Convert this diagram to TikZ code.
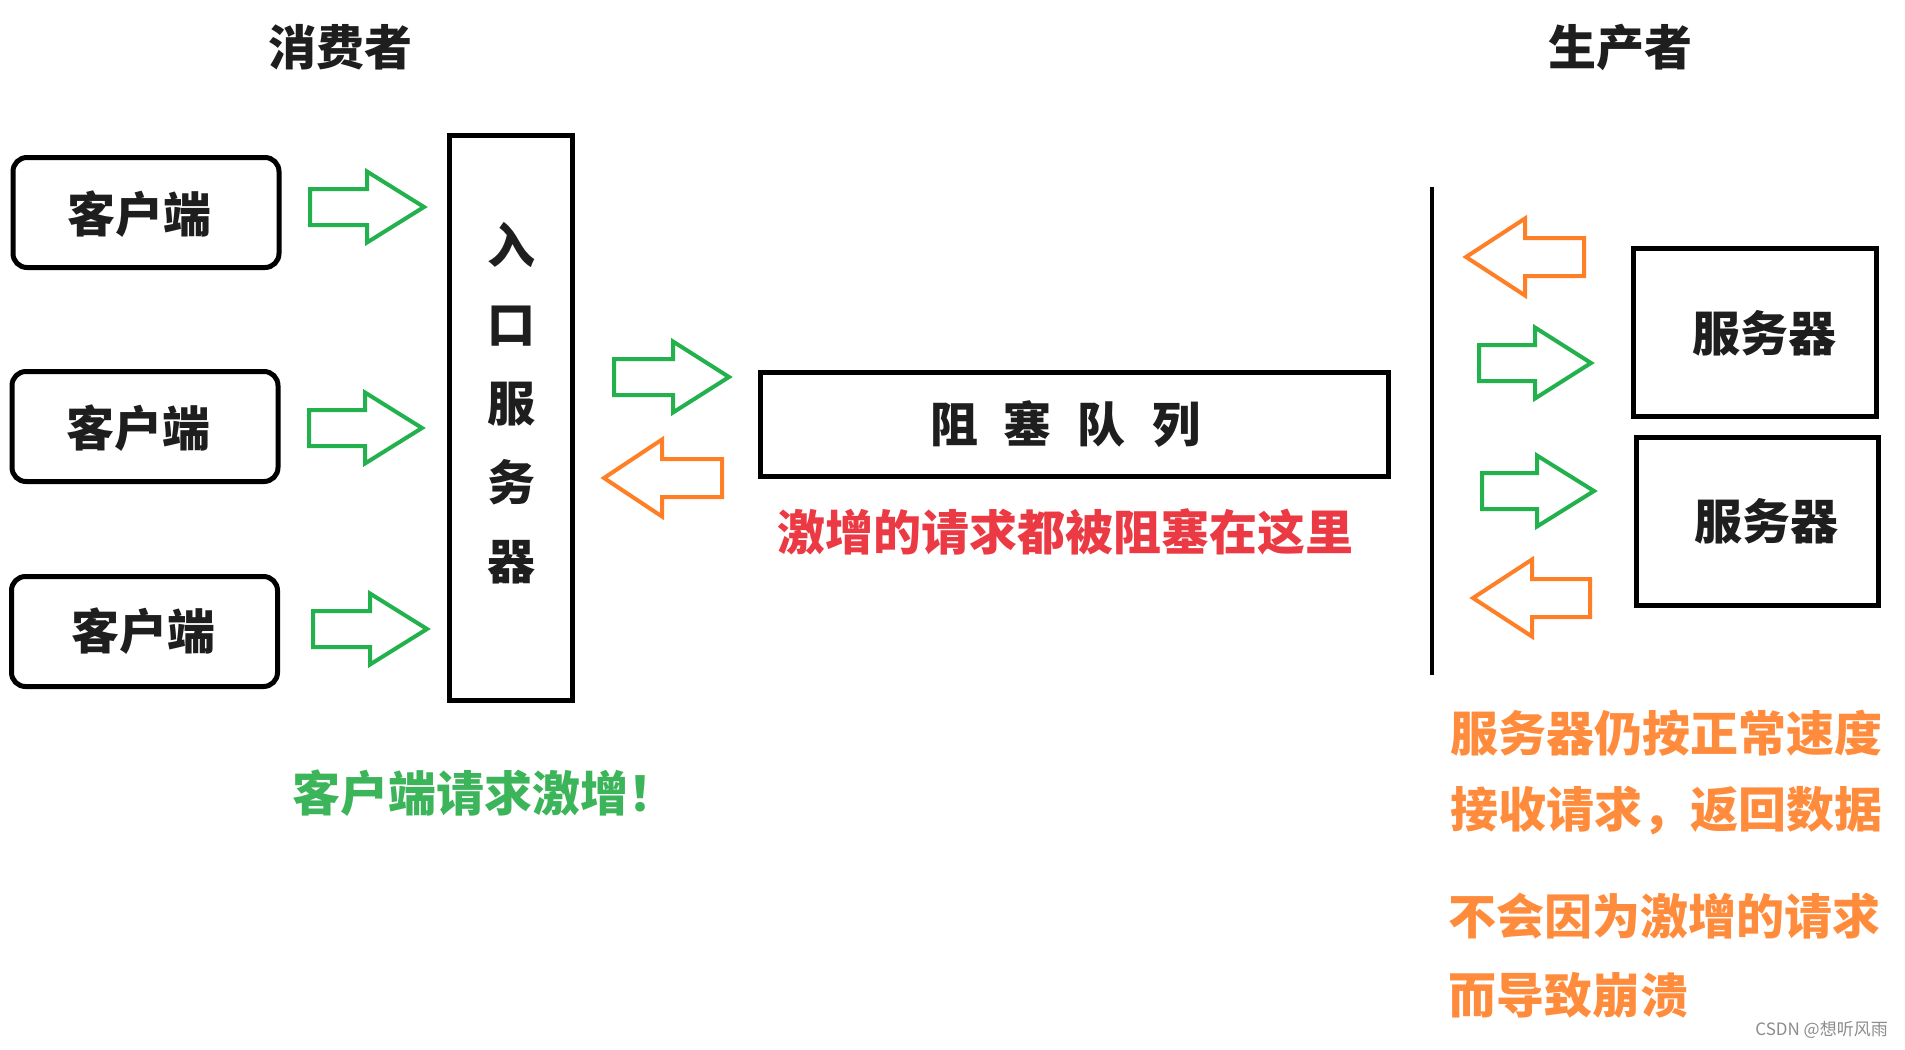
\documentclass[tikz,border=0pt]{standalone}
\usepackage{fontspec}
\setmainfont{Noto Sans CJK SC}
\definecolor{agreen}{RGB}{34,177,76}
\definecolor{aorange}{RGB}{255,127,39}
\definecolor{tgreen}{RGB}{60,180,90}
\definecolor{torange}{RGB}{255,140,60}
\definecolor{tred}{RGB}{235,58,68}
\definecolor{tblack}{RGB}{30,30,30}
\tikzset{
  txt/.style={font=\bfseries\fontsize{48}{48}\selectfont, inner sep=0pt, text=tblack},
  clientbox/.style={draw=black, line width=5pt, rounded corners=14pt, minimum width=266pt, minimum height=110pt},
  plainbox/.style={draw=black, line width=5pt},
  garr/.style={draw=agreen, line width=4pt, line join=miter},
  oarr/.style={draw=aorange, line width=4pt, line join=miter},
}
\newcommand{\greenarrow}[4]{\draw[garr] (#1,#2-18) -- (#1+#3,#2-18) -- (#1+#3,#2-35.5) -- (#1+#3+#4,#2) -- (#1+#3,#2+35.5) -- (#1+#3,#2+18) -- (#1,#2+18) -- cycle;}
\newcommand{\orangearrow}[4]{\draw[oarr] (#1,#2) -- (#1+#3,#2-38.5) -- (#1+#3,#2-19) -- (#1+#3+#4,#2-19) -- (#1+#3+#4,#2+19) -- (#1+#3,#2+19) -- (#1+#3,#2+38.5) -- cycle;}
\begin{document}
\begin{tikzpicture}[x=1pt,y=-1pt]
\useasboundingbox[fill=white] (0,0) rectangle (1905,1049);
% titles
\node[txt] (consumer) at (340,47) {消费者};
\node[txt] (producer) at (1620,47) {生产者};
% clients
\node[clientbox] (c1) at (146,212.5) {};
\node[clientbox] (c2) at (145,426.5) {};
\node[clientbox] (c3) at (144.5,631.5) {};
\node[txt] (c1t) at (139,214) {客户端};
\node[txt] (c2t) at (138,428) {客户端};
\node[txt] (c3t) at (143,631) {客户端};
% entry server
\node[plainbox, minimum width=123pt, minimum height=565pt] (entry) at (510.5,417.5) {};
\node[txt, align=center, font=\bfseries\fontsize{48}{79}\selectfont] (entryt) at (511,403) {入\\口\\服\\务\\器};
% client arrows
\greenarrow{310}{207}{57}{57}
\greenarrow{309}{428}{56}{57}
\greenarrow{313}{629}{57}{57}
% queue arrows
\greenarrow{614}{377}{59}{56}
\orangearrow{604}{478}{58}{60}
% queue
\node[plainbox, minimum width=628pt, minimum height=104pt] (queue) at (1074,424) {};
\node[txt] (queuet) at (1065,424) {阻\hspace{26pt}塞\hspace{26pt}队\hspace{26pt}列};
\node[txt, text=tred] (qnote) at (1065,532) {激增的请求都被阻塞在这里};
% vertical line
\coordinate (vtop) at (1432,187);
\coordinate (vbot) at (1432,675);
\draw[line width=4.5pt] (vtop) -- (vbot);
% right arrows
\orangearrow{1466}{257}{59}{59}
\greenarrow{1479}{363}{56}{56}
\greenarrow{1482}{491}{55}{57}
\orangearrow{1473}{598}{59}{58}
% servers
\node[plainbox, minimum width=243pt, minimum height=168pt] (s1) at (1754.5,332) {};
\node[plainbox, minimum width=242pt, minimum height=168pt] (s2) at (1757,521) {};
\node[txt] (s1t) at (1764,333) {服务器};
\node[txt] (s2t) at (1766,521) {服务器};
% notes
\node[txt, text=tgreen, anchor=west] (cnote) at (292,793) {客户端请求激增！};
\node[txt, text=torange, anchor=west] (snote1) at (1450,733) {服务器仍按正常速度};
\node[txt, text=torange, anchor=west] (snote2) at (1450,811) {接收请求，返回数据};
\node[txt, text=torange, anchor=west] (snote3) at (1448,916) {不会因为激增的请求};
\node[txt, text=torange, anchor=west] (snote4) at (1448,995) {而导致崩溃};
\node[inner sep=0pt, anchor=east, text=black!45, font=\fontsize{17}{17}\selectfont] (wm) at (1888,1030) {CSDN @想听风雨};
\end{tikzpicture}
\end{document}
